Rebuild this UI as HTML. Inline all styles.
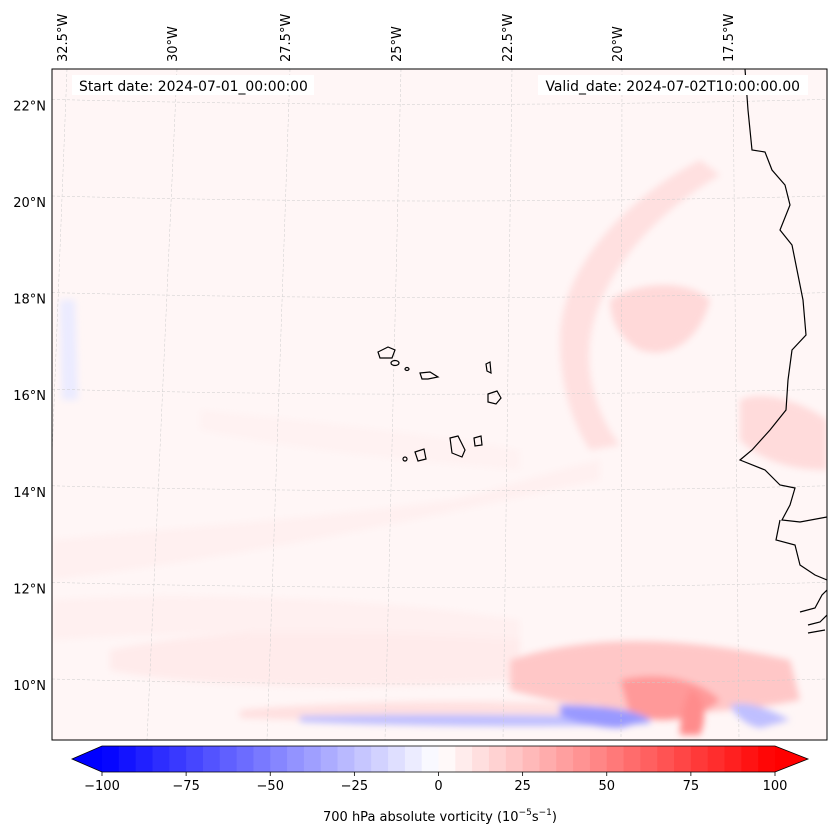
<!DOCTYPE html>
<html><head><meta charset="utf-8">
<style>
body{margin:0;background:#fff;font-family:"Liberation Sans","DejaVu Sans",sans-serif;}
svg{display:block}
text{font-family:"DejaVu Sans","Liberation Sans",sans-serif;font-size:13px;fill:#000}
</style></head>
<body>
<svg id="chart" width="837" height="839">
<defs>
<filter id="blur" x="-20%" y="-20%" width="140%" height="140%"><feGaussianBlur stdDeviation="3.5"/></filter>
<clipPath id="mapclip"><rect x="52" y="69" width="775" height="671"/></clipPath>
</defs>
<g clip-path="url(#mapclip)">
<rect x="52" y="69" width="775" height="671" fill="#fff6f6"/>
<g id="field" filter="url(#blur)"></g>
<g id="grid"></g>
<g fill="none" stroke="#000" stroke-width="1.2">
<path d="M745,69 L748,110 L752,150 L765,152 L772,170 L785,185 L790,205 L780,230 L792,245 L797,270 L803,300 L806,335 L792,350 L788,380 L786,410 L770,430 L752,450 L740,460 L765,470 L780,485 L795,488 L790,505 L782,520 L800,522 L827,517"/>
<path d="M780,520 L776,540 L795,545 L800,565 L815,575 L827,580"/>
<path d="M800,612 L815,608 L822,595 L827,590"/>
<path d="M808,625 L820,622 L827,615"/>
<path d="M808,633 L825,630"/>
</g>
<g fill="none" stroke="#000" stroke-width="1.2">
<path d="M378,352 L388,347 L395,350 L392,358 L380,358 Z"/>
<ellipse cx="395" cy="363" rx="4" ry="2.5"/>
<ellipse cx="407" cy="369" rx="2" ry="1.5"/>
<path d="M420,373 L430,372 L438,377 L428,379 L422,379 Z"/>
<path d="M486,364 L490,362 L491,373 L487,371 Z"/>
<path d="M488,394 L497,391 L501,398 L496,404 L488,402 Z"/>
<path d="M450,438 L458,436 L465,450 L462,457 L452,453 Z"/>
<path d="M474,438 L481,436 L482,445 L475,446 Z"/>
<path d="M415,452 L424,449 L426,459 L418,461 Z"/>
<ellipse cx="405" cy="459" rx="2" ry="2"/>
</g>
</g>
<rect x="52" y="69" width="775" height="671" fill="none" stroke="#000" stroke-width="1"/>
<rect x="72" y="75" width="242" height="20" fill="#fff"/>
<text x="79" y="91" style="font-size:13.9px">Start date: 2024-07-01_00:00:00</text>
<rect x="538" y="75" width="270" height="20" fill="#fff"/>
<text x="800" y="91" text-anchor="end" style="font-size:13.9px">Valid_date: 2024-07-02T10:00:00.00</text>
<g id="lonlabels"></g>
<g id="latlabels"></g>
<g id="cbar"></g>
<text x="440" y="821" text-anchor="middle">700 hPa absolute vorticity (10<tspan dy="-6" font-size="9">−5</tspan><tspan dy="6">s</tspan><tspan dy="-6" font-size="9">−1</tspan><tspan dy="6">)</tspan></text>
</svg>
<script>
const NS="http://www.w3.org/2000/svg";
function mk(tag,attrs,parent){const e=document.createElementNS(NS,tag);for(const k in attrs)e.setAttribute(k,attrs[k]);parent.appendChild(e);return e;}
// data
const lonLabels=["32.5°W","30°W","27.5°W","25°W","22.5°W","20°W","17.5°W"];
const lonTop=[62,172,285,396,507,617,728];
const latLabels=["22°N","20°N","18°N","16°N","14°N","12°N","10°N"];
const latVals=[22,20,18,16,14,12,10];
const cbTicks=[-100,-75,-50,-25,0,25,50,75,100];
const cbLevels=[];for(let v=-100;v<100;v+=5)cbLevels.push(v);
// axis functions
const yLat=lat=>685-(lat-10)*48.3;
const xCb=v=>102+(v+100)/200*673;
function bwr(v){const t=Math.max(0,Math.min(1,(v+100)/200));let r,g,b;if(t<0.5){r=2*t;g=2*t;b=1}else{r=1;g=2*(1-t);b=2*(1-t)}return `rgb(${Math.round(r*255)},${Math.round(g*255)},${Math.round(b*255)})`;}
// field blobs (approx)
const F=document.getElementById('field');
const blobs=[
["M560,340 C560,260 640,190 700,160 L720,175 C660,210 600,270 590,340 C585,380 600,420 620,445 L590,450 C570,420 560,380 560,340Z",12],
["M610,300 C640,280 690,280 710,300 C700,340 670,360 640,350 C620,340 610,320 610,300Z",15],
["M740,400 C760,390 800,400 827,420 L827,470 C790,470 760,460 740,440Z",14],
["M110,650 C200,630 400,620 520,640 L520,680 C400,690 200,690 110,670Z",8],
["M510,660 C600,630 700,640 790,660 L800,700 C700,720 600,715 510,690Z",22],
["M620,680 C660,670 700,680 720,700 C700,720 660,725 630,715Z",40],
["M240,710 C350,700 500,700 600,705 L600,720 C500,725 350,722 240,718Z",12],
["M300,716 C400,714 550,714 650,718 L650,724 C550,728 400,726 300,722Z",-25],
["M560,705 C600,705 640,710 650,720 L620,728 C600,728 570,722 560,715Z",-40],
["M690,690 C700,690 710,710 700,735 L680,735 C680,715 685,700 690,690Z",45],
["M730,705 C750,700 770,710 790,720 L760,728 C745,725 735,715 730,705Z",-25],
["M52,540 C150,530 300,520 450,500 C500,490 550,470 600,460 L600,480 C500,500 300,550 52,580Z",6],
["M200,410 C300,420 400,430 520,450 L520,470 C400,460 300,450 200,430Z",5],
["M60,300 L75,300 L78,400 L62,400Z",-8],
["M52,600 C200,590 400,600 520,620 L520,640 C400,630 200,630 52,640Z",6]
];
blobs.forEach((b,i)=>{
const p=mk('path',{d:b[0],fill:bwr(b[1])},F);


});
// gridlines
const G=document.getElementById('grid');
const lonBottom=[50,153,270,385,500,615,730];
lonTop.forEach((x,i)=>{
const l=mk('line',{x1:x+5,y1:69,x2:lonBottom[i]+(i-3)*3,y2:740,stroke:"#ccc","stroke-width":0.5,"stroke-dasharray":"3,2"},G);


});
latVals.forEach(lat=>{
const y=yLat(lat);
const p=mk('path',{d:`M52,${y-6} Q440,${y+4} 827,${y-6}`,fill:"none",stroke:"#ccc","stroke-width":0.5,"stroke-dasharray":"3,2"},G);


});
// lon labels
const LL=document.getElementById('lonlabels');
lonLabels.forEach((s,i)=>{
const t=mk('text',{x:0,y:0,transform:`translate(${lonTop[i]+5},62) rotate(-90)`},LL);
t.textContent=s;


});
const LA=document.getElementById('latlabels');
latLabels.forEach((s,i)=>{
const t=mk('text',{x:46,y:yLat(latVals[i])+5,"text-anchor":"end"},LA);
t.textContent=s;


});
// colorbar
const C=document.getElementById('cbar');
const y0=746,h=26;
cbLevels.forEach(v=>{
const r=mk('rect',{x:xCb(v),y:y0,width:xCb(v+5)-xCb(v)+0.5,height:h,fill:bwr(v+2.5)},C);


});
const lt=mk('polygon',{points:`${xCb(-100)},${y0} 72,${y0+h/2} ${xCb(-100)},${y0+h}`,fill:bwr(-100)},C);


const rt=mk('polygon',{points:`${xCb(100)},${y0} 808,${y0+h/2} ${xCb(100)},${y0+h}`,fill:bwr(100)},C);


const ol=mk('polygon',{points:`${xCb(-100)},${y0} ${xCb(100)},${y0} 808,${y0+h/2} ${xCb(100)},${y0+h} ${xCb(-100)},${y0+h} 72,${y0+h/2}`,fill:"none",stroke:"#000","stroke-width":0.8},C);


cbTicks.forEach(v=>{
const x=xCb(v);
const tk=mk('line',{x1:x,y1:y0+h,x2:x,y2:y0+h+4,stroke:"#000","stroke-width":0.8},C);


const t=mk('text',{x:x,y:y0+h+18,"text-anchor":"middle"},C);
t.textContent=v<0?"−"+Math.abs(v):String(v);


});
</script>
</body></html>
